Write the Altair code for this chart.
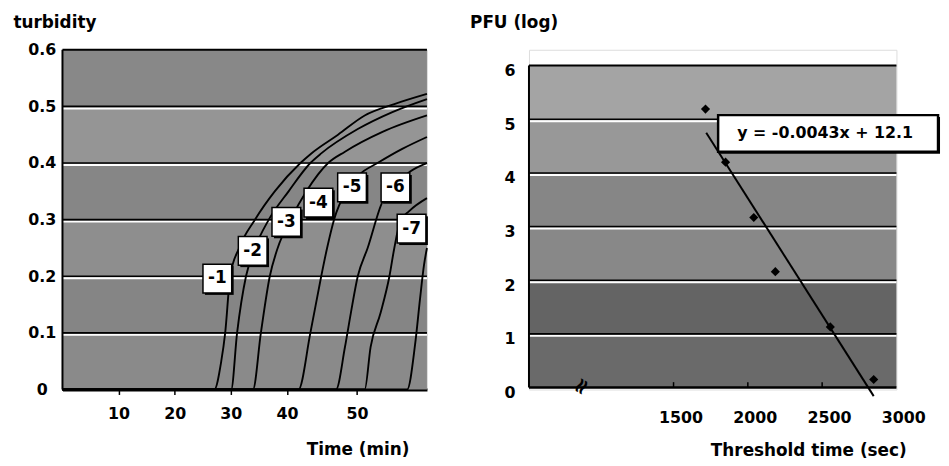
import altair as alt
import pandas as pd

FONT = "DejaVu Sans"

# ---------------- left panel: turbidity vs time (min) ----------------
curve_labels = ["-1", "-2", "-3", "-4", "-5", "-6", "-7"]

c1_time = [0, 27.06, 28.30, 29.00, 29.89, 31.48, 34.30, 37.83, 41.93, 43.49, 47.30, 51.11, 55.34, 60.0]
c1_turb = [0, 0, 0.05, 0.10, 0.20, 0.25, 0.30, 0.35, 0.40, 0.417, 0.45, 0.484, 0.504, 0.522]
c2_time = [0, 30.07, 31.12, 32.71, 34.30, 36.77, 40.24, 43.35, 44.90, 50.12, 55.06, 60.0]
c2_turb = [0, 0, 0.10, 0.20, 0.25, 0.30, 0.35, 0.40, 0.417, 0.46, 0.49, 0.513]
c3_time = [0, 33.95, 35.36, 36.95, 38.36, 40.52, 42.78, 45.89, 48.29, 53.65, 60.0]
c3_turb = [0, 0, 0.10, 0.20, 0.25, 0.30, 0.35, 0.40, 0.42, 0.455, 0.484]
c4_time = [0, 41.65, 43.35, 44.90, 45.74, 46.73, 48.43, 50.40, 52.94, 56.47, 60.0]
c4_turb = [0, 0, 0.10, 0.20, 0.25, 0.30, 0.35, 0.38, 0.40, 0.425, 0.446]
c5_time = [0, 47.01, 48.29, 49.13, 50.12, 51.53, 53.65, 55.48, 57.60, 60.0]
c5_turb = [0, 0, 0.075, 0.135, 0.20, 0.25, 0.332, 0.36, 0.385, 0.40]
c6_time = [0, 51.11, 51.95, 53.37, 54.64, 55.34, 56.19, 57.46, 60.0]
c6_turb = [0, 0, 0.075, 0.135, 0.20, 0.25, 0.297, 0.315, 0.338]
c7_time = [0, 57.18, 58.31, 59.01, 59.58, 60.0]
c7_turb = [0, 0, 0.08, 0.16, 0.22, 0.25]

label_time = [27.6, 33.9, 39.9, 44.5, 49.3, 55.5, 57.8]
label_turb = [0.196, 0.245, 0.296, 0.330, 0.357, 0.357, 0.284]

turb_ticks = [0, 0.1, 0.2, 0.3, 0.4, 0.5, 0.6]
time_ticks = [10, 20, 30, 40, 50]
turb_band_lo = [0, 0.1, 0.2, 0.3, 0.4, 0.5]
turb_band_hi = [0.1, 0.2, 0.3, 0.4, 0.5, 0.6]
turb_band_shade = ["#8a8a8a", "#858585", "#8e8e8e", "#868686", "#959595", "#888888"]

# ---------------- right panel: PFU (log) vs threshold time (sec) ----------------
pfu_time = [1715, 1850, 2040, 2185, 2555, 2847]
pfu_log = [5.19, 4.2, 3.17, 2.16, 1.13, 0.15]
trend_time = [1720, 2847]
trend_log = [4.75, -0.16]
equation = "y = -0.0043x + 12.1"
eq_box_time = [1800, 3280]
eq_box_log = [4.394, 5.077]
eq_text_pos = [2520, 4.735]

pfu_ticks = [0, 1, 2, 3, 4, 5, 6]
sec_ticks = [1500, 2000, 2500, 3000]
sec_minor = [1500, 2000, 2500]
pfu_band_lo = [0, 1, 2, 3, 4, 5]
pfu_band_hi = [1, 2, 3, 4, 5, 6]
pfu_band_shade = ["#6a6a6a", "#646464", "#888888", "#868686", "#989898", "#a4a4a4"]

# ---------------- build tables ----------------
curves = []
for name, ts, vs in zip(curve_labels,
                        [c1_time, c2_time, c3_time, c4_time, c5_time, c6_time, c7_time],
                        [c1_turb, c2_turb, c3_turb, c4_turb, c5_turb, c6_turb, c7_turb]):
    for t, v in zip(ts, vs):
        curves.append({"curve": name, "t": t, "v": v})
curves_df = pd.DataFrame(curves)
labels_df = pd.DataFrame({"t": label_time, "v": label_turb, "txt": curve_labels})
lband_df = pd.DataFrame({"t": 0, "t2": 60, "v": turb_band_lo, "v2": turb_band_hi, "shade": turb_band_shade})
lgrid_df = pd.DataFrame({"v": turb_ticks[1:-1]})
ltop_df = pd.DataFrame({"v": [turb_ticks[-1]]})
lleft_df = pd.DataFrame({"t": [0]})

L_W, H = 368, 343
xs_l = alt.Scale(domain=[0, 40, 60], range=[0, 226.6, L_W], nice=False, zero=False)
ys_l = alt.Scale(domain=[0, 0.6], nice=False, zero=False)

lab = dict(labelFont=FONT, labelFontWeight="bold", labelFontSize=16, labelColor="black",
           titleFont=FONT, titleFontWeight="bold", titleFontSize=17, titleColor="black",
           grid=False, labelFlush=False, labelOverlap=False)

x_axis_l = alt.Axis(values=time_ticks, title="Time (min)", titleX=298, titleY=66,
                    titleAlign="center", titleBaseline="alphabetic", titleAngle=0,
                    ticks=True, tickSize=5, tickWidth=1.5, tickColor="black",
                    labelPadding=11, domain=True, domainColor="black", domainWidth=3, **lab)
y_axis_l = alt.Axis(values=turb_ticks, format=".1~f", title="turbidity", titleAngle=0,
                    titleX=-50, titleY=-22, titleAlign="left", titleBaseline="alphabetic",
                    labelAlign="center", labelPadding=21, ticks=False, tickSize=0,
                    domain=False, **lab)


def XL(f):
    return alt.X(f, type="quantitative", scale=xs_l, axis=x_axis_l)


def YL(f):
    return alt.Y(f, type="quantitative", scale=ys_l, axis=y_axis_l)


l_bands = alt.Chart(lband_df).mark_rect().encode(
    x=XL("t"), x2="t2", y=YL("v"), y2="v2", color=alt.Color("shade:N", scale=None))
l_grid_w = alt.Chart(lgrid_df).mark_rule(color="white", strokeWidth=2, yOffset=2).encode(y=YL("v"))
l_grid_b = alt.Chart(lgrid_df).mark_rule(color="black", strokeWidth=1.6).encode(y=YL("v"))
l_top = alt.Chart(ltop_df).mark_rule(color="black", strokeWidth=2).encode(y=YL("v"))
l_left = alt.Chart(lleft_df).mark_rule(color="black", strokeWidth=2).encode(x=XL("t"))
l_curves = alt.Chart(curves_df).mark_line(interpolate="monotone", color="black", strokeWidth=1.9).encode(
    x=XL("t"), y=YL("v"), detail="curve:N")
l_shadow = alt.Chart(labels_df).mark_point(shape="square", size=841, filled=True, color="black",
                                           opacity=1, xOffset=2, yOffset=2).encode(x=XL("t"), y=YL("v"))
l_box = alt.Chart(labels_df).mark_point(shape="square", size=841, filled=True, fill="white",
                                        stroke="black", strokeWidth=1.5, opacity=1).encode(x=XL("t"), y=YL("v"))
l_text = alt.Chart(labels_df).mark_text(font=FONT, fontSize=17, fontWeight="bold", color="black",
                                        align="center", baseline="middle").encode(
    x=XL("t"), y=YL("v"), text="txt:N")

left = alt.layer(l_bands, l_grid_w, l_grid_b, l_curves, l_top, l_left,
                 l_shadow, l_box, l_text).properties(width=L_W, height=H)

# ---------------- right panel ----------------
R_W = 371
xs_r = alt.Scale(domain=[527, 3000], nice=False, zero=False)
ys_r = alt.Scale(domain=[-0.037, 6.295], nice=False, zero=False)

x_axis_r = alt.Axis(values=sec_ticks, format="d", title="Threshold time (sec)", titleX=282, titleY=67,
                    titleAlign="center", titleBaseline="alphabetic", titleAngle=0,
                    ticks=False, tickSize=0, labelPadding=20, labelOffset=7, domain=False, **lab)
y_axis_r = alt.Axis(values=pfu_ticks, format="d", title="PFU (log)", titleAngle=0,
                    titleX=-60, titleY=-22, titleAlign="left", titleBaseline="alphabetic",
                    labelAlign="right", labelPadding=14, labelOffset=5, ticks=False, tickSize=0,
                    domain=False, **lab)


def XR(f):
    return alt.X(f, type="quantitative", scale=xs_r, axis=x_axis_r)


def YR(f):
    return alt.Y(f, type="quantitative", scale=ys_r, axis=y_axis_r)


rband_df = pd.DataFrame({"s": 527, "s2": 3000, "p": pfu_band_lo, "p2": pfu_band_hi, "shade": pfu_band_shade})
rgrid_df = pd.DataFrame({"p": pfu_ticks[1:-1]})
rtop_df = pd.DataFrame({"p": [pfu_ticks[-1]]})
rbottom_df = pd.DataFrame({"p": [pfu_ticks[0]]})
rleft_df = pd.DataFrame({"s": [527], "p": [pfu_ticks[0]], "p2": [pfu_ticks[-1]]})
rminor_df = pd.DataFrame({"s": sec_minor, "p": 0, "p2": 0.1})
rbreak_df = pd.DataFrame({"s": [880], "p": [0.02], "txt": ["≈"]})
pts_df = pd.DataFrame({"s": pfu_time, "p": pfu_log})
trend_df = pd.DataFrame({"s": trend_time, "p": trend_log})
eqbox_df = pd.DataFrame({"s": [eq_box_time[0]], "s2": [eq_box_time[1]], "p": [eq_box_log[0]], "p2": [eq_box_log[1]]})
eqtxt_df = pd.DataFrame({"s": [eq_text_pos[0]], "p": [eq_text_pos[1]], "txt": [equation]})

r_bands = alt.Chart(rband_df).mark_rect().encode(
    x=XR("s"), x2="s2", y=YR("p"), y2="p2", color=alt.Color("shade:N", scale=None))
r_grid_w = alt.Chart(rgrid_df).mark_rule(color="white", strokeWidth=2, yOffset=2).encode(y=YR("p"))
r_grid_b = alt.Chart(rgrid_df).mark_rule(color="black", strokeWidth=1.6).encode(y=YR("p"))
r_top = alt.Chart(rtop_df).mark_rule(color="black", strokeWidth=2).encode(y=YR("p"))
r_bottom = alt.Chart(rbottom_df).mark_rule(color="black", strokeWidth=2.5).encode(y=YR("p"))
r_left = alt.Chart(rleft_df).mark_rule(color="black", strokeWidth=2).encode(x=XR("s"), y=YR("p"), y2="p2")
r_minor = alt.Chart(rminor_df).mark_rule(color="black", strokeWidth=1.5).encode(x=XR("s"), y=YR("p"), y2="p2")
r_break = alt.Chart(rbreak_df).mark_text(font=FONT, fontSize=22, fontWeight="bold", color="black",
                                         angle=300, align="center", baseline="middle").encode(
    x=XR("s"), y=YR("p"), text="txt:N")
r_pts = alt.Chart(pts_df).mark_point(shape="diamond", filled=True, color="black", size=85,
                                     opacity=1).encode(x=XR("s"), y=YR("p"))
r_trend = alt.Chart(trend_df).mark_line(color="black", strokeWidth=2).encode(x=XR("s"), y=YR("p"))
r_eq_shadow = alt.Chart(eqbox_df).mark_rect(color="black", xOffset=2, x2Offset=2, yOffset=2, y2Offset=2).encode(
    x=XR("s"), x2="s2", y=YR("p"), y2="p2")
r_eq_box = alt.Chart(eqbox_df).mark_rect(fill="white", stroke="black", strokeWidth=2.5).encode(
    x=XR("s"), x2="s2", y=YR("p"), y2="p2")
r_eq_text = alt.Chart(eqtxt_df).mark_text(font=FONT, fontSize=16, fontWeight="bold", color="black",
                                          align="center", baseline="middle").encode(
    x=XR("s"), y=YR("p"), text="txt:N")

right = alt.layer(r_bands, r_grid_w, r_grid_b, r_top, r_bottom, r_left, r_minor, r_break,
                  r_trend, r_pts, r_eq_shadow, r_eq_box, r_eq_text).properties(width=R_W, height=H)

chart = alt.hconcat(left, right, spacing=37).properties(
    padding={"left": 4, "top": 3, "right": 0, "bottom": 0}
).configure_view(stroke=None).configure(background="white")

chart.save("out.html", embed_options={"renderer": "svg", "actions": False})
